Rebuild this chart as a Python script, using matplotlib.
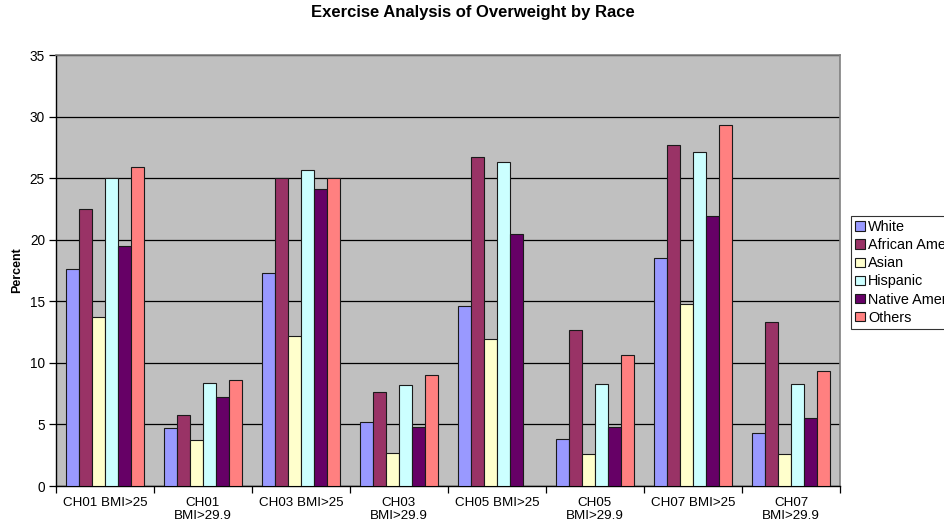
import numpy as np
import matplotlib
matplotlib.use("Agg")
import matplotlib.pyplot as plt

plt.rcParams['font.family'] = ['Liberation Sans', 'DejaVu Sans']

categories = ["CH01 BMI>25", "CH01\nBMI>29.9", "CH03 BMI>25", "CH03\nBMI>29.9",
              "CH05 BMI>25", "CH05\nBMI>29.9", "CH07 BMI>25", "CH07\nBMI>29.9"]
series_names = ["White", "African American", "Asian", "Hispanic", "Native American", "Others"]

white = [17.6, 4.7, 17.3, 5.2, 14.6, 3.8, 18.5, 4.3]
african_american = [22.5, 5.8, 25.0, 7.6, 26.7, 12.7, 27.7, 13.3]
asian = [13.7, 3.7, 12.2, 2.7, 11.9, 2.6, 14.8, 2.6]
hispanic = [25.0, 8.4, 25.7, 8.2, 26.3, 8.3, 27.1, 8.3]
native_american = [19.5, 7.2, 24.1, 4.8, 20.5, 4.8, 21.9, 5.5]
others = [25.9, 8.6, 25.0, 9.0, np.nan, 10.6, 29.3, 9.3]

series = [white, african_american, asian, hispanic, native_american, others]
colors = ["#9999FF", "#993366", "#FFFFCC", "#CCFFFF", "#660066", "#FF8080"]

fig = plt.figure(figsize=(9.45, 5.29), dpi=100)
ax = fig.add_axes([56 / 945, 1 - 486 / 529, (840 - 56) / 945, (486 - 55) / 529])
ax.set_facecolor("#C0C0C0")

n = len(series)
width = 1.0 / (n + 1.5)
x = np.arange(len(categories))
for i, (vals, name, col) in enumerate(zip(series, series_names, colors)):
    offs = (i - (n - 1) / 2) * width
    ax.bar(x + offs, vals, width=width, color=col, edgecolor="#1a1a1a",
           linewidth=0.8, label=name, zorder=3)

ax.set_ylim(0, 35)
ax.set_xlim(-0.5, len(categories) - 0.5)
ax.set_yticks(np.arange(0, 36, 5))
ax.yaxis.grid(True, color="black", linewidth=0.9, zorder=1)
ax.set_axisbelow(True)

ax.set_xticks(x)
ax.set_xticklabels(categories, fontsize=9.6, linespacing=1.12)
ax.tick_params(axis="x", which="major", length=0, pad=8)
ax.set_xticks(np.arange(-0.5, len(categories)), minor=True)
ax.tick_params(axis="x", which="minor", length=5, width=0.9, direction="out", color="black")
ax.tick_params(axis="y", length=5, width=0.9, direction="out", labelsize=9.8, pad=3)

for side in ("top", "right"):
    ax.spines[side].set_color("#808080")
    ax.spines[side].set_linewidth(1.2)
for side in ("left", "bottom"):
    ax.spines[side].set_color("black")
    ax.spines[side].set_linewidth(1.0)

ax.set_ylabel("Percent", fontsize=9, fontweight="bold", labelpad=5)
fig.text(0.5, 1 - 13 / 529, "Exercise Analysis of Overweight by Race",
         ha="center", va="center", fontsize=12, fontweight="bold")

leg = fig.legend(loc="upper left", bbox_to_anchor=(851 / 945, 1 - 216 / 529),
                 fontsize=10.4, frameon=True, fancybox=False, edgecolor="black",
                 handlelength=0.65, handleheight=0.65, handletextpad=0.25,
                 labelspacing=0.28, borderpad=0.3, borderaxespad=0)
leg.get_frame().set_linewidth(0.8)

fig.savefig("out.png", dpi=100)
